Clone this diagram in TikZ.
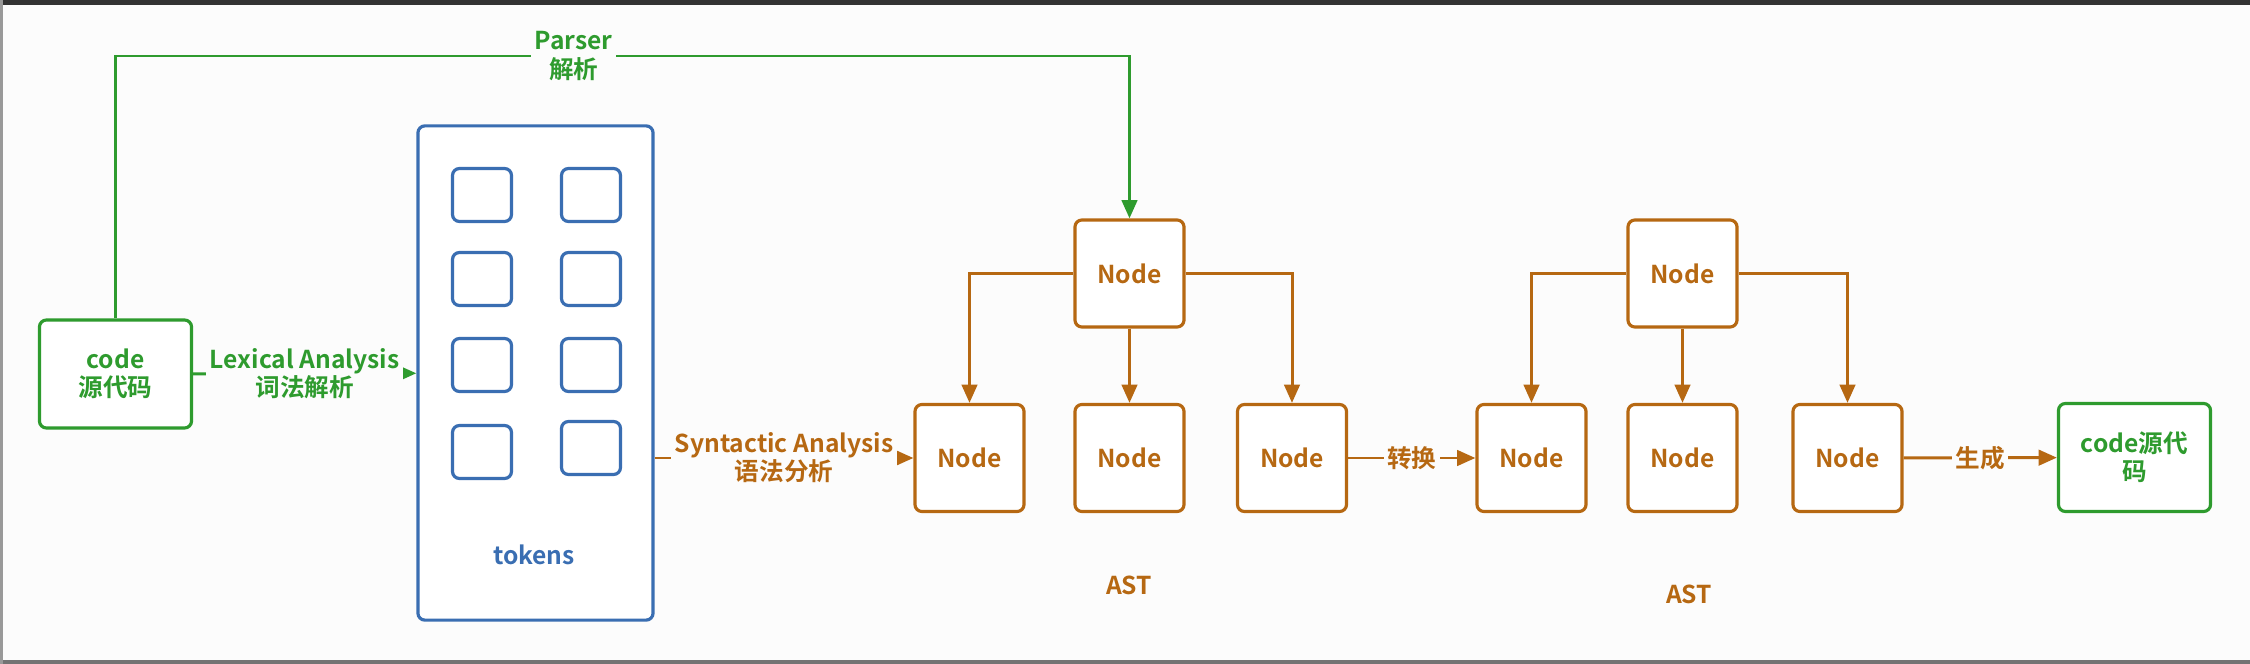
\documentclass[tikz,border=0pt]{standalone}
\usepackage{fontspec}
\setmainfont{Noto Sans CJK SC}[BoldFont={* Bold}]
\usepackage{tikz}
\usetikzlibrary{arrows.meta}
\usetikzlibrary{quotes}
\definecolor{bg}{RGB}{252,252,252}
\definecolor{gcol}{RGB}{46,155,46}
\definecolor{ocol}{RGB}{182,104,18}
\definecolor{bcol}{RGB}{58,110,178}
\newcommand\lbl{\fontsize{7pt}{8pt}\selectfont\bfseries}
\begin{document}
\begin{tikzpicture}[x=0.01cm,y=-0.01cm,
    every edge quotes/.style={fill=bg,font=\lbl,align=center,inner sep=1pt},
    >={Triangle[length=5.2pt,width=4.4pt]},
    box/.style={draw,rounded corners=2pt,line width=0.9pt,fill=white,inner sep=0pt,font=\lbl,align=center},
    ast/.style={box,draw=ocol,text=ocol,minimum width=1.09cm,minimum height=1.07cm},
    grn/.style={box,draw=gcol,text=gcol,minimum width=1.52cm,minimum height=1.08cm},
    tok/.style={box,draw=bcol,minimum width=0.59cm,minimum height=0.53cm},
    gline/.style={gcol,line width=0.85pt,text=gcol},
    oline/.style={ocol,line width=0.85pt,text=ocol}]
    % frame
    \fill[bg] (0,0) rectangle (2250,664);
    \fill[black!80] (0,0) rectangle (2250,5);
    \fill[black!55] (0,660) rectangle (2250,664);
    \fill[black!40] (0,0) rectangle (3,664);
    % source and tokens
    \node[grn] (code) at (115.5,374) {code\\源代码};
    \node[box,draw=bcol,minimum width=2.35cm,minimum height=4.94cm] (tk) at (535.5,373) {};
    \node[tok] (t1) at (482,195) {};
    \node[tok] (t2) at (591,195) {};
    \node[tok] (t3) at (482,279) {};
    \node[tok] (t4) at (591,279) {};
    \node[tok] (t5) at (482,365) {};
    \node[tok] (t6) at (591,365) {};
    \node[tok] (t7) at (482,452) {};
    \node[tok] (t8) at (591,448) {};
    \node[font=\lbl,text=bcol] (tkl) at (534,555) {tokens};
    % first AST
    \node[ast] (n0) at (1129.5,273.5) {Node};
    \node[ast] (n1) at (969.5,458) {Node};
    \node[ast] (n2) at (1129.5,458) {Node};
    \node[ast] (n3) at (1292,458) {Node};
    \node[font=\lbl,text=ocol] (ast1) at (1129,585) {AST};
    % second AST
    \node[ast] (m0) at (1682.5,273.5) {Node};
    \node[ast] (m1) at (1531.5,458) {Node};
    \node[ast] (m2) at (1682.5,458) {Node};
    \node[ast] (m3) at (1847.5,458) {Node};
    \node[font=\lbl,text=ocol] (ast2) at (1689,594) {AST};
    \node[grn] (out) at (2134.5,457.5) {code源代\\码};
    \coordinate (ptop) at (1129.5,56);
    % connectors
    \draw[gline,->] (code.north) |- node[pos=0.726,fill=bg,font=\lbl,align=center,inner sep=1pt] {Parser\\解析} (ptop) -- (n0.north);
    \draw[gline] (code) edge["{Lexical Analysis\\词法解析}",->] (tk);
    \draw[oline] (tk.east |- n1) edge["{Syntactic Analysis\\语法分析}",->] (n1);
    \draw[oline,->] (n0) -| (n1);
    \draw[oline,->] (n0) -| (n3);
    \draw[oline] (n0) edge[->] (n2);
    \draw[oline] (n3) edge["转换",->] (m1);
    \draw[oline,->] (m0) -| (m1);
    \draw[oline,->] (m0) -| (m3);
    \draw[oline] (m0) edge[->] (m2);
    \draw[oline] (m3) edge["生成",->] (out);
\end{tikzpicture}
\end{document}
